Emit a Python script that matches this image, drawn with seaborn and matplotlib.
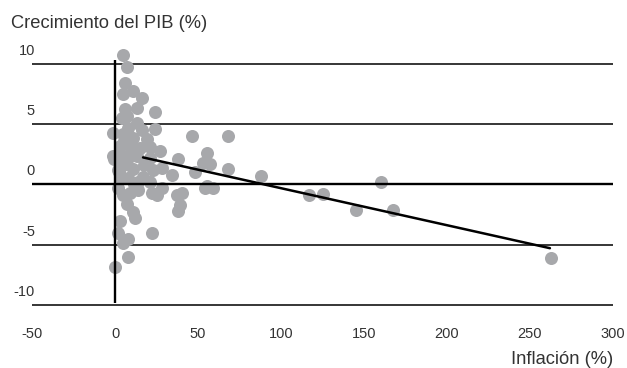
import matplotlib
matplotlib.use("Agg")
import matplotlib.pyplot as plt
import seaborn as sns
import pandas as pd

# datos: inflacion (%) y crecimiento del PIB (%)
inflacion = [4.8, 7.2, 6.0, 4.8, 10.8, 16.3, 6.0, 13.3, 24.1, 7.2,
             4.2, 13.3, 24.1, 4.8, 10.8, 19.3, 46.4, 68.1, 3.0, 10.2,
             21.1, 27.1, 4.2, 13.3, 21.1, 55.4, 38.0, 53.0, 57.2, 4.8,
             10.8, 28.3, 68.1, 48.2, 34.3, 3.0, 7.8, 16.9, 88.0, 160.2,
             9.0, 13.9, 22.3, 25.3, 37.3, 40.4, 54.2, 59.0, 55.4, 39.2,
             38.0, 116.9, 125.3, 145.2, 167.5, 262.5, 4.8, 7.2, 10.8, 12.0,
             3.0, 1.8, 7.8, 4.8, 22.3, 7.8, 0.0, -0.6, -1.0, -1.0,
             7.8, 16.3, 7.2, 18.1, 22.9, 1.8, 13.9, 21.1, 1.8, 28.3,
             9.5, 15.0, 2.5, 11.5, 17.5, 5.5]
pib = [10.8, 9.8, 8.4, 7.5, 7.8, 7.2, 6.3, 6.4, 6.0, 5.7,
       5.5, 5.1, 4.6, 4.2, 3.9, 3.8, 4.0, 4.0, 3.2, 3.1,
       3.1, 2.8, 2.4, 2.4, 2.2, 2.6, 2.1, 1.8, 1.7, 1.6,
       1.3, 1.4, 1.3, 1.0, 0.8, 0.6, 0.5, 0.6, 0.7, 0.2,
       -0.7, -0.5, -0.7, -0.9, -0.9, -0.7, -0.3, -0.3, -0.1, -1.7,
       -2.2, -0.9, -0.8, -2.1, -2.1, -6.1, -0.9, -1.6, -2.3, -2.8,
       -3.0, -4.0, -4.5, -4.9, -4.0, -6.0, -6.9, 2.1, 4.3, 2.4,
       4.7, 4.5, 2.0, 1.8, 1.2, 1.2, 0.2, 0.2, -0.3, -0.3,
       2.8, 3.0, 1.0, 0.0, 1.6, 3.6]

# recta de tendencia
recta_x = [16.9, 262.0]
recta_y = [2.25, -5.3]

xticks = [-50, 0, 50, 100, 150, 200, 250, 300]
yticks = [-10, -5, 0, 5, 10]

df = pd.DataFrame({"inflacion": inflacion, "pib": pib})

sns.set_style("white")
plt.rcParams["font.family"] = ["Liberation Sans", "DejaVu Sans"]
texto = "#333333"

fig = plt.figure(figsize=(6.27, 3.68), dpi=100)
ax = fig.add_axes([32 / 627, 0.1557, (613 - 32) / 627, 0.722])

# lineas horizontales finas (por debajo de los puntos)
for v in yticks:
    if v != 0:
        ax.axhline(v, color="black", lw=1.1, zorder=1)

sns.scatterplot(data=df, x="inflacion", y="pib", ax=ax, color="#a7a8ab",
                s=88, linewidth=0, zorder=2, legend=False)

# eje cero y eje vertical gruesos, encima de los puntos
ax.axhline(0, color="black", lw=1.7, zorder=3)
ax.vlines(0, -9.85, 10.35, color="black", lw=1.7, zorder=3)

sns.lineplot(x=recta_x, y=recta_y, ax=ax, color="black", lw=1.8, zorder=4)

ax.set_xlim(-50, 300)
ax.set_ylim(-10.5, 11.6)
ax.set_xticks(xticks)
ax.set_xticklabels([str(t) for t in xticks], fontsize=10.5, color=texto)
ax.tick_params(axis="x", length=0, pad=12)
ax.set_yticks([])
for v in yticks:
    ax.text(-48.2, v + 1.08, str(v), ha="right", va="center",
            fontsize=10.5, color=texto)
for s in ax.spines.values():
    s.set_visible(False)
ax.set_xlabel("")
ax.set_ylabel("")

fig.text(11 / 627, 1 - 24 / 368, "Crecimiento del PIB (%)", ha="left",
         va="center", fontsize=13.2, color=texto)
fig.text(613 / 627, 1 - 359 / 368, "Inflación (%)", ha="right",
         va="center", fontsize=13.2, color=texto)

fig.savefig("out.png", dpi=100)
